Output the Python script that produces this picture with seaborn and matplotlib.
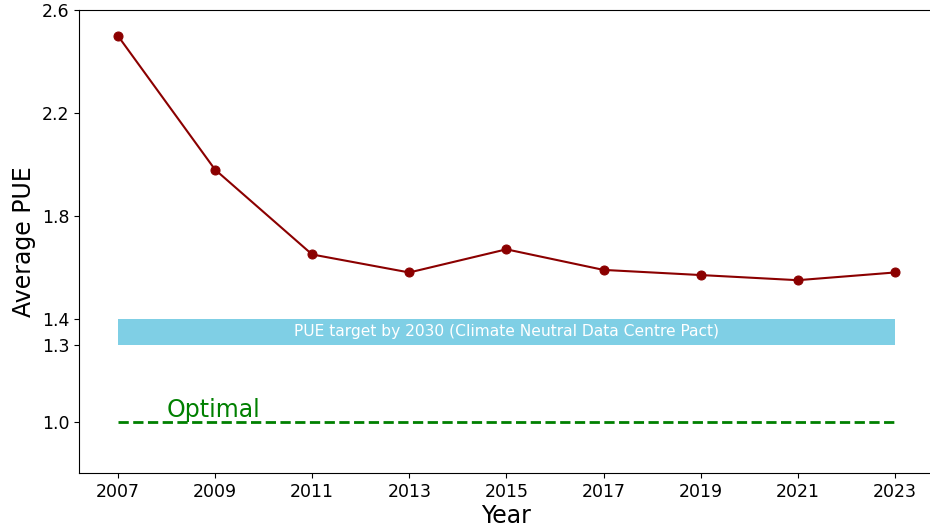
import matplotlib
matplotlib.use("Agg")
import matplotlib.pyplot as plt
import pandas as pd
import seaborn as sns

# average PUE per survey year
years = [2007, 2009, 2011, 2013, 2015, 2017, 2019, 2021, 2023]
pue = [2.50, 1.98, 1.65, 1.58, 1.67, 1.59, 1.57, 1.55, 1.58]

target_low, target_high = 1.3, 1.4
optimal = 1.0
yticks = [1.0, 1.3, 1.4, 1.8, 2.2, 2.6]

df = pd.DataFrame({'Year': years, 'PUE': pue})

fig = plt.figure(figsize=(9.3, 5.31), dpi=100)
ax = fig.add_axes([0.085, 0.109, 0.919, 0.872])

sns.lineplot(data=df, x='Year', y='PUE', marker='o', color='darkred',
             markersize=6.5, markeredgecolor='darkred', linewidth=1.5, ax=ax)

# target band
ax.fill_between([years[0], years[-1]], target_low, target_high,
                color='#7fcfe5', linewidth=0)
ax.text((years[0] + years[-1]) / 2, (target_low + target_high) / 2,
        'PUE target by 2030 (Climate Neutral Data Centre Pact)',
        color='white', fontsize=11.2, ha='center', va='center')

# optimal line
ax.plot([years[0], years[-1]], [optimal, optimal], '--', color='green', lw=2)
ax.text(2008, optimal + 0.018, 'Optimal', color='green', fontsize=17,
        va='baseline')

ax.set_xlim(2006.2, 2023.8)
ax.set_ylim(0.8, 2.6)
ax.set_xticks(years)
ax.set_yticks(yticks)
ax.set_yticklabels([f'{t:.1f}' for t in yticks])
ax.tick_params(labelsize=12.5)
ax.set_xlabel('Year', fontsize=17, labelpad=2)
ax.set_ylabel('Average PUE', fontsize=17)

fig.savefig('out.png', dpi=100)
